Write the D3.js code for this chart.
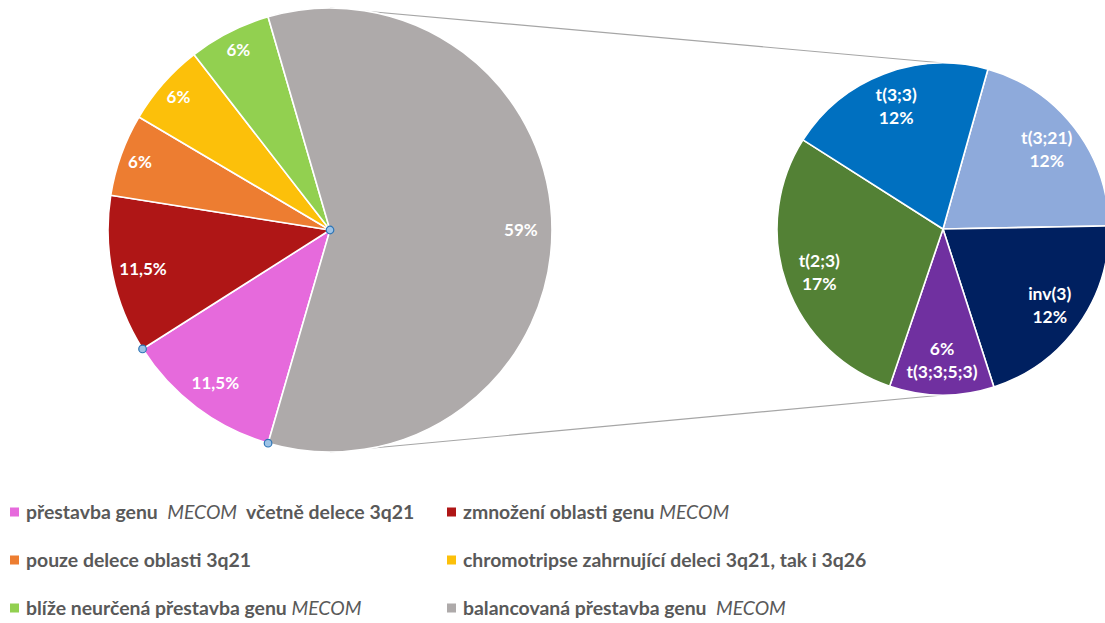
<!DOCTYPE html>
<html>
<head>
<meta charset="utf-8">
<script src="https://cdn.jsdelivr.net/npm/d3@7"></script>
<style>
  body { margin: 0; background: #fff; }
  svg { display: block; }
  .legend text { white-space: pre; }
</style>
</head>
<body>
<svg id="chart" width="1105" height="623"></svg>
<script>
// Main pie: categories, shares (%) and their printed labels
const mainCategories = [
  "přestavba genu  MECOM  včetně delece 3q21",
  "zmnožení oblasti genu MECOM",
  "pouze delece oblasti 3q21",
  "chromotripse zahrnující deleci 3q21, tak i 3q26",
  "blíže neurčená přestavba genu MECOM",
  "balancovaná přestavba genu  MECOM"
];
const mainValues = [11.5, 11.5, 6, 6, 6, 59];
const mainLabels = ["11,5%", "11,5%", "6%", "6%", "6%", "59%"];
const mainColors = ["#E66ADC", "#AF1616", "#ED7D31", "#FCC00A", "#92D050", "#AEAAAA"];

// Secondary pie: breakdown of the balanced rearrangements (shares of the total, %)
const subCategories = ["t(3;21)", "inv(3)", "t(3;3;5;3)", "t(2;3)", "t(3;3)"];
const subValues = [12, 12, 6, 17, 12];
const subLabels = ["12%", "12%", "6%", "17%", "12%"];
const subColors = ["#8EAADB", "#002060", "#7030A0", "#538135", "#0070C0"];

const svg = d3.select("#chart");
const FONT = "Lato, 'Open Sans', sans-serif";

const main = { cx: 330, cy: 230, r: 222 };
const sub = { cx: 943, cy: 229, r: 166 };

const deg = Math.PI / 180;
const otherIndex = mainValues.length - 1;
const otherShare = mainValues[otherIndex] / d3.sum(mainValues);
// the "other" slice is centred on the right-hand side, facing the secondary pie
const mainStart = Math.PI / 2 + otherShare * Math.PI;
const subStart = 15.7 * deg;

// series lines joining the two pies (drawn first so they sit behind)
const lines = svg.append("g").attr("stroke", "#A6A6A6").attr("stroke-width", 1.2);
lines.append("line")
  .attr("x1", main.cx).attr("y1", main.cy - main.r)
  .attr("x2", sub.cx).attr("y2", sub.cy - sub.r);
lines.append("line")
  .attr("x1", main.cx).attr("y1", main.cy + main.r)
  .attr("x2", sub.cx).attr("y2", sub.cy + sub.r);

function drawPie(cfg, values, colors, startAngle) {
  const pie = d3.pie().sort(null).value(d => d)
    .startAngle(startAngle).endAngle(startAngle + 2 * Math.PI);
  const arcs = pie(values);
  const arc = d3.arc().innerRadius(0).outerRadius(cfg.r);
  const g = svg.append("g").attr("transform", `translate(${cfg.cx},${cfg.cy})`);
  g.selectAll("path").data(arcs).join("path")
    .attr("d", arc)
    .attr("fill", (d, i) => colors[i])
    .attr("stroke", "#fff")
    .attr("stroke-width", 1.6)
    .attr("stroke-linejoin", "round");
  return { g, arcs };
}

const polar = (r, a) => [r * Math.sin(a), -r * Math.cos(a)];

// main pie
const mp = drawPie(main, mainValues, mainColors, mainStart);
mp.g.selectAll("text.lbl").data(mp.arcs).join("text")
  .attr("class", "lbl")
  .attr("transform", d => {
    const a = (d.startAngle + d.endAngle) / 2;
    const k = d.value < 10 ? 0.91 : 0.86;
    const [x, y] = polar(main.r * k, a);
    return `translate(${x},${y})`;
  })
  .attr("text-anchor", "middle")
  .attr("dy", "0.36em")
  .attr("fill", "#fff")
  .attr("font-family", FONT)
  .attr("font-weight", 700)
  .attr("font-size", 17)
  .text((d, i) => mainLabels[i]);

// selection handles on the first slice
const first = mp.arcs[0];
const handles = [[0, 0], polar(main.r, first.startAngle), polar(main.r, first.endAngle)];
mp.g.selectAll("circle.handle").data(handles).join("circle")
  .attr("class", "handle")
  .attr("cx", d => d[0]).attr("cy", d => d[1])
  .attr("r", 3.8)
  .attr("fill", "#9DC3E6")
  .attr("stroke", "#2E75B6")
  .attr("stroke-width", 1.2);

// secondary pie
const sp = drawPie(sub, subValues, subColors, subStart);
const subText = sp.g.selectAll("text.lbl").data(sp.arcs).join("text")
  .attr("class", "lbl")
  .attr("transform", d => {
    const a = (d.startAngle + d.endAngle) / 2;
    const [x, y] = polar(sub.r * 0.79, a);
    return `translate(${x},${y})`;
  })
  .attr("text-anchor", "middle")
  .attr("fill", "#fff")
  .attr("font-family", FONT)
  .attr("font-weight", 700)
  .attr("font-size", 17.5);
subText.each(function (d, i) {
  // the smallest slice prints its percentage above its name
  const rows = d.value < 10 ? [subLabels[i], subCategories[i]] : [subCategories[i], subLabels[i]];
  const t = d3.select(this);
  rows.forEach((s, j) => {
    t.append("tspan").attr("x", 0).attr("y", (j - 0.5) * 23).attr("dy", "0.36em").text(s);
  });
});

// legend: two columns, three rows
const legend = svg.append("g")
  .attr("class", "legend")
  .attr("font-family", FONT)
  .attr("font-weight", 700)
  .attr("font-size", 19.4)
  .attr("fill", "#595959");
const colX = [10, 447];
const rowY = [512, 560, 608];
mainCategories.forEach((name, i) => {
  const x = colX[i % 2], y = rowY[Math.floor(i / 2)];
  legend.append("rect")
    .attr("x", x).attr("y", y - 4.5)
    .attr("width", 9).attr("height", 9)
    .attr("fill", mainColors[i]);
  const t = legend.append("text")
    .attr("x", x + 16).attr("y", y).attr("dy", "0.36em");
  const parts = name.split("MECOM");
  parts.forEach((p, j) => {
    if (p) t.append("tspan").text(p);
    if (j < parts.length - 1) {
      t.append("tspan").attr("font-style", "italic").attr("font-weight", 400).text("MECOM");
    }
  });
});
</script>
</body>
</html>
